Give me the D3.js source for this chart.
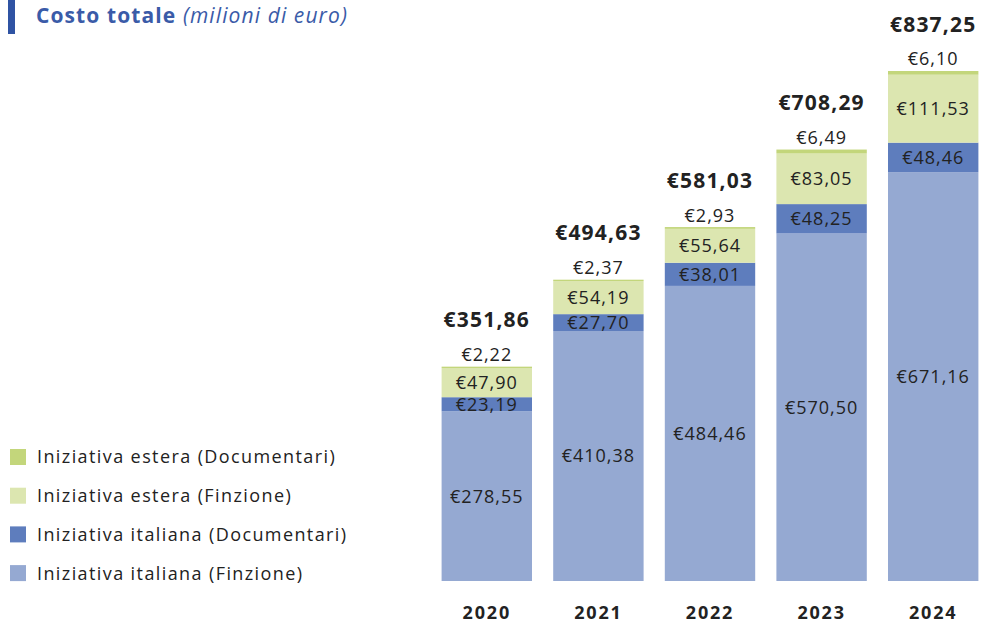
<html>
<head>
<title>Costo totale</title>
<style>
body { margin: 0; background: #fff; font-family: "Open Sans", sans-serif; }
</style>
<script type="text/javascript" src="https://cdn.jsdelivr.net/npm/d3@7"></script>
</head>
<body>
<div id="chart"></div>
<script type="text/javascript">

	var years = ["2020", "2021", "2022", "2023", "2024"];
	var itFinzione = [278.55, 410.38, 484.46, 570.50, 671.16];
	var itDocumentari = [23.19, 27.70, 38.01, 48.25, 48.46];
	var esFinzione = [47.90, 54.19, 55.64, 83.05, 111.53];
	var esDocumentari = [2.22, 2.37, 2.93, 6.49, 6.10];
	var totals = [351.86, 494.63, 581.03, 708.29, 837.25];

	var seriesNames = ["Iniziativa italiana (Finzione)", "Iniziativa italiana (Documentari)", "Iniziativa estera (Finzione)", "Iniziativa estera (Documentari)"];
	var colors = ["#95a9d2", "#5e7dbd", "#dce6b0", "#c3d67b"];

	var width = 981, height = 625;
	var svg = d3.select("#chart").append("svg")
		.attr("width", width)
		.attr("height", height);

	// title
	svg.append("rect").attr("x", 8).attr("y", 0).attr("width", 7).attr("height", 34).attr("fill", "#2f53a3");
	var title = svg.append("text").attr("x", 36).attr("y", 23)
		.attr("font-size", 21).attr("fill", "#3a5ba8").attr("letter-spacing", "1.1px");
	title.append("tspan").attr("font-weight", "bold").text("Costo totale ");
	title.append("tspan").attr("font-style", "italic").text("(milioni di euro)");

	var x = d3.scaleBand().domain(years).range([431, 989]).paddingInner(0.19).paddingOuter(0.095);
	var y = d3.scaleLinear().domain([0, 837.25]).range([581, 71]);

	var fmt = function (v) { return "€" + v.toFixed(2).replace(".", ","); };

	var rows = years.map(function (yr, i) {
		return { year: yr, a: itFinzione[i], b: itDocumentari[i], c: esFinzione[i], d: esDocumentari[i], total: totals[i] };
	});
	var stack = d3.stack().keys(["a", "b", "c", "d"])(rows);

	var layers = svg.selectAll("g.layer").data(stack).enter().append("g")
		.attr("class", "layer")
		.attr("fill", function (d, i) { return colors[i]; });

	layers.selectAll("rect").data(function (d) { return d; }).enter().append("rect")
		.attr("x", function (d) { return x(d.data.year); })
		.attr("y", function (d) { return y(d[1]); })
		.attr("width", x.bandwidth())
		.attr("height", function (d) { return y(d[0]) - y(d[1]); });

	// labels inside the first three segments
	stack.slice(0, 3).forEach(function (layer) {
		svg.selectAll(null).data(layer).enter().append("text")
			.attr("x", function (d) { return x(d.data.year) + x.bandwidth() / 2; })
			.attr("y", function (d) { return (y(d[0]) + y(d[1])) / 2; })
			.attr("dy", "0.36em")
			.attr("text-anchor", "middle")
			.attr("font-size", 18)
			.attr("letter-spacing", "1px")
			.attr("fill", "#222")
			.text(function (d) { return fmt(d[1] - d[0]); });
	});

	// estera documentari label above the bar
	svg.selectAll(null).data(stack[3]).enter().append("text")
		.attr("x", function (d) { return x(d.data.year) + x.bandwidth() / 2; })
		.attr("y", function (d) { return y(d[1]) - 12; })
		.attr("dy", "0.36em")
		.attr("text-anchor", "middle")
		.attr("font-size", 18)
		.attr("letter-spacing", "1px")
		.attr("fill", "#222")
		.text(function (d) { return fmt(d[1] - d[0]); });

	// totals
	svg.selectAll(null).data(rows).enter().append("text")
		.attr("x", function (d) { return x(d.year) + x.bandwidth() / 2; })
		.attr("y", function (d) { return y(d.total) - 47; })
		.attr("dy", "0.36em")
		.attr("text-anchor", "middle")
		.attr("font-size", 21)
		.attr("font-weight", "bold")
		.attr("letter-spacing", "1.2px")
		.attr("fill", "#222")
		.text(function (d) { return fmt(d.total); });

	// x axis
	var xAxis = svg.append("g").attr("transform", "translate(0,581)")
		.call(d3.axisBottom(x).tickSize(0).tickPadding(25));
	xAxis.select(".domain").remove();
	xAxis.selectAll("text").attr("font-size", 18).attr("font-weight", "bold")
		.attr("font-family", "'Open Sans', sans-serif").attr("fill", "#222").attr("letter-spacing", "1.8px");

	// legend
	var legendOrder = [3, 2, 1, 0];
	var leg = svg.selectAll("g.legend").data(legendOrder).enter().append("g")
		.attr("class", "legend")
		.attr("transform", function (d, i) { return "translate(10," + (457 + i * 38.7) + ")"; });
	leg.append("rect").attr("x", 0).attr("y", -8).attr("width", 16).attr("height", 16)
		.attr("fill", function (d) { return colors[d]; });
	leg.append("text").attr("x", 27).attr("dy", "0.36em").attr("font-size", 18)
		.attr("letter-spacing", "1.4px").attr("fill", "#222")
		.text(function (d) { return seriesNames[d]; });

</script>
</body>
</html>
